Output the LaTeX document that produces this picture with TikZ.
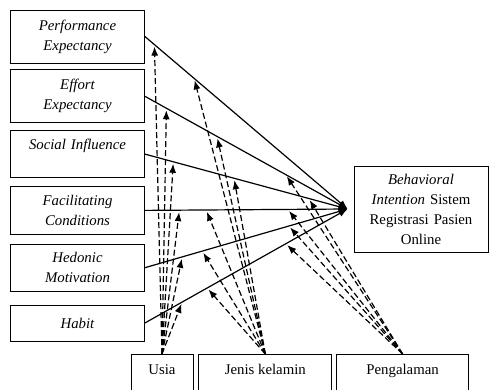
\documentclass[tikz,border=0pt]{standalone}
\usepackage{fontspec}
\setmainfont{Liberation Serif}
\usetikzlibrary{positioning}
\usetikzlibrary{arrows.meta}
\usetikzlibrary{calc}

\begin{document}
\begin{tikzpicture}[
    x=1pt, y=-1pt,
    block/.style={rectangle, draw=black, fill=white, line width=0.8pt, minimum width=134pt, text width=126pt, align=center, inner sep=2pt, font=\fontsize{14.8}{20}\selectfont\itshape},
    mod/.style={rectangle, draw=black, fill=white, line width=0.8pt, minimum height=50pt, align=center, inner sep=2pt, font=\fontsize{14.8}{20}\selectfont},
    effect/.style={line width=1.2pt, -{Latex[length=9pt,width=7pt]}},
    moder/.style={line width=1.2pt, dash pattern=on 6pt off 3pt, shorten >=2pt, -{Latex[length=9pt,width=7pt]}},
]
    \useasboundingbox (0,0) rectangle (489,390);
    \clip (0,0) rectangle (489,390);

    \node[block, minimum height=53pt] (B1) at (77.5,36.5) {Performance\\Expectancy};
    \node[block, minimum height=53pt] (B2) [below=6pt of B1] {Effort\\Expectancy};
    \node[block, minimum height=47pt] (B3) [below=7pt of B2] {Social Influence\\\mbox{}};
    \node[block, minimum height=48pt] (B4) [below=8pt of B3] {Facilitating\\Conditions};
    \node[block, minimum height=47pt] (B5) [below=9pt of B4] {Hedonic\\Motivation};
    \node[block, minimum height=36pt] (B6) [below=13pt of B5] {Habit};

    \node[block, minimum height=86pt, font=\fontsize{14.8}{20}\selectfont] (BI) at (421,209) {\textit{Behavioral}\\\textit{Intention} Sistem\\Registrasi Pasien\\Online};

    \node[mod, minimum width=62pt, anchor=north] (M1) at (162,354) {Usia\\\mbox{}};
    \node[mod, minimum width=133pt] (M2) [right=5pt of M1] {Jenis kelamin\\\mbox{}};
    \node[mod, minimum width=132pt] (M3) [right=4pt of M2] {Pengalaman\\\mbox{}};

    \coordinate (T) at ($(BI.west)+(-6,0)$);

    \draw[effect] (B1.east) -- (T);
    \draw[effect] (B2.east) -- (T);
    \draw[effect] (B3.east) -- (T);
    \draw[effect] (B4.east) -- (T);
    \draw[effect] (B5.east) -- (T);
    \draw[effect] (B6.east) -- (T);

    % Usia
    \draw[moder] (M1.north) -- ($(B1.east)!0.047!(T)$);
    \draw[moder] (M1.north) -- ($(B2.east)!0.106!(T)$);
    \draw[moder] (M1.north) -- ($(B3.east)!0.14!(T)$);
    \draw[moder] (M1.north) -- ($(B4.east)!0.17!(T)$);
    \draw[moder] (M1.north) -- ($(B5.east)!0.184!(T)$);
    \draw[moder] (M1.north) -- ($(B6.east)!0.184!(T)$);

    % Jenis kelamin
    \draw[moder] (M2.north) -- ($(B1.east)!0.243!(T)$);
    \draw[moder] (M2.north) -- ($(B2.east)!0.356!(T)$);
    \draw[moder] (M2.north) -- ($(B3.east)!0.44!(T)$);
    \draw[moder] (M2.north) -- ($(B4.east)!0.302!(T)$);
    \draw[moder] (M2.north) -- ($(B5.east)!0.283!(T)$);
    \draw[moder] (M2.north) -- ($(B6.east)!0.307!(T)$);

    % Pengalaman
    \draw[moder] (M3.north) -- ($(B2.east)!0.695!(T)$);
    \draw[moder] (M3.north) -- ($(B3.east)!0.808!(T)$);
    \draw[moder] (M3.north) -- ($(B4.east)!0.705!(T)$);
    \draw[moder] (M3.north) -- ($(B5.east)!0.71!(T)$);
    \draw[moder] (M3.north) -- ($(B6.east)!0.695!(T)$);
\end{tikzpicture}
\end{document}
